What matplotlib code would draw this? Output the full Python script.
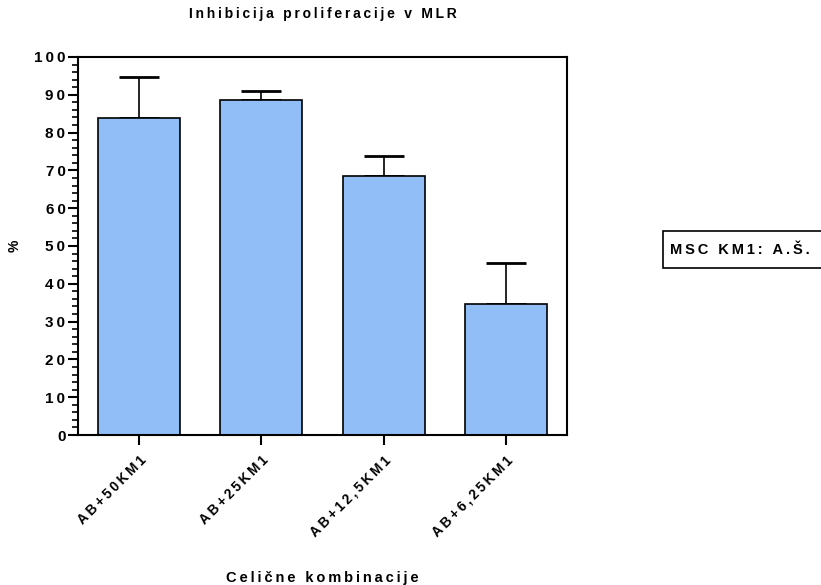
import matplotlib
matplotlib.use("Agg")
import matplotlib.pyplot as plt
from matplotlib.patches import Rectangle
from matplotlib.ticker import MultipleLocator

categories = ["AB+50KM1", "AB+25KM1", "AB+12,5KM1", "AB+6,25KM1"]
means = [83.9, 88.5, 68.5, 34.6]
errors = [10.9, 2.6, 5.4, 11.0]

plt.rcParams['font.family'] = ['Liberation Sans', 'DejaVu Sans']
plt.rcParams['font.weight'] = 'bold'

def spaced(s):
    # letter spacing like the original export
    return "\u2009".join(s)

fig = plt.figure(figsize=(8.21, 5.85), dpi=100)
ax = fig.add_axes([0.095, 0.2564, 0.5956, 0.6462])

x = range(len(categories))
ax.bar(x, means, width=0.67, color="#92BEF8", edgecolor="black", linewidth=1.2, zorder=2)
ax.errorbar(x, means, yerr=[[0] * len(errors), errors], fmt="none", ecolor="black",
            elinewidth=1.2, capsize=14.5, capthick=2, zorder=1)

ax.set_xlim(-0.5, 3.5)
ax.set_ylim(0, 100)
ax.yaxis.set_major_locator(MultipleLocator(10))
ax.yaxis.set_minor_locator(MultipleLocator(2))
ax.tick_params(axis="y", which="major", length=7, width=1.5, pad=2, direction="out")
ax.tick_params(axis="y", which="minor", length=4, width=1.2, direction="out")
ax.tick_params(axis="x", length=7, width=1.5, pad=6, direction="out")
ax.set_yticks(range(0, 101, 10))
ax.set_yticklabels([spaced(str(v)) for v in range(0, 101, 10)], fontsize=11, fontweight="bold")
ax.set_xticks(list(x))
ax.set_xticklabels([spaced(c) for c in categories], rotation=45, ha="right",
                   rotation_mode="anchor", fontsize=9.8, fontweight="bold")
for sp in ax.spines.values():
    sp.set_linewidth(1.5)

ax.set_title(spaced("Inhibicija proliferacije v MLR"), fontsize=10, fontweight="bold", pad=28)
ax.set_ylabel("%", fontsize=10, fontweight="bold")
ax.yaxis.set_label_coords(-0.115, 0.5)
ax.set_xlabel(spaced("Celične kombinacije"), fontsize=10.5, fontweight="bold")
ax.xaxis.set_label_coords(0.5, -0.36)

# legend-like box, runs past the right edge as in the original
fig.patches.append(Rectangle((663 / 821, 1 - 268 / 585), 0.3, 37 / 585,
                             transform=fig.transFigure, facecolor="white",
                             edgecolor="black", linewidth=1.2))
fig.text(670 / 821, 1 - 250 / 585, spaced("MSC KM1: A.Š."), fontsize=10.5,
         fontweight="bold", va="center", ha="left")

fig.savefig("out.png", dpi=100)
